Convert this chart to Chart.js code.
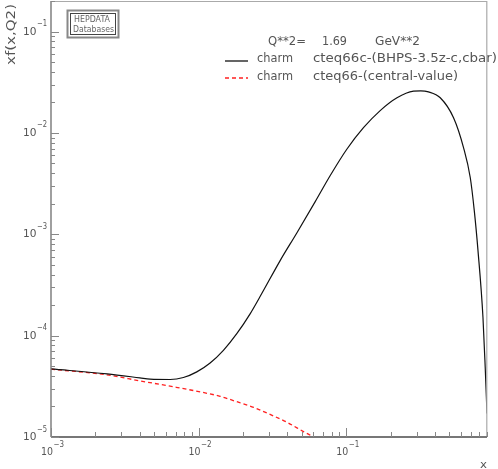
<!DOCTYPE html>
<html><head><meta charset="utf-8">
<script src="https://cdn.jsdelivr.net/npm/chart.js@4"></script>
<style>html,body{margin:0;padding:0;background:#fff;overflow:hidden}canvas{display:block}</style>
</head><body>
<canvas id="c" width="498" height="469"></canvas>
<script>
// ---- data ----
const blackX = [0.001, 0.0024, 0.004, 0.00469, 0.00641, 0.00789, 0.00973, 0.01197, 0.01473, 0.01815, 0.02234, 0.0268, 0.0357, 0.0463, 0.0617, 0.078, 0.101, 0.131, 0.170, 0.221, 0.286, 0.32, 0.361, 0.434, 0.534, 0.624, 0.693, 0.738, 0.782, 0.845, 0.875, 0.9];
const blackY = [4.70e-5, 4.19e-5, 3.83e-5, 3.72e-5, 3.69e-5, 3.86e-5, 4.39e-5, 5.37e-5, 7.16e-5, 1.045e-4, 1.64e-4, 2.60e-4, 5.50e-4, 1.03e-3, 2.10e-3, 3.80e-3, 6.90e-3, 1.125e-2, 1.66e-2, 2.22e-2, 2.58e-2, 2.60e-2, 2.54e-2, 2.22e-2, 1.41e-2, 7.16e-3, 3.63e-3, 1.71e-3, 6.9e-4, 1.52e-4, 4.9e-5, 1.71e-5];
const redX = [0.001, 0.00239, 0.004, 0.00674, 0.0114, 0.014, 0.0188, 0.0236, 0.0305, 0.0396, 0.0514, 0.0585, 0.065];
const redY = [4.67e-5, 4.10e-5, 3.58e-5, 3.13e-5, 2.70e-5, 2.52e-5, 2.19e-5, 1.96e-5, 1.67e-5, 1.40e-5, 1.13e-5, 1.02e-5, 9.0e-6];

const xMajorTicks = [1e-3, 1e-2, 1e-1];
const xTickExps = ['\u22123', '\u22122', '\u22121'];
const yMajorTicks = [1e-5, 1e-4, 1e-3, 1e-2, 1e-1];
const yTickExps = ['\u22125', '\u22124', '\u22123', '\u22122', '\u22121'];
const yTitle = 'xf(x,Q2)';
const xTitle = 'x';
const q2Label = ['Q**2=', '1.69', 'GeV**2'];
const legendNames = ['charm', 'charm'];
const legendSets = ['cteq66c-(BHPS-3.5z-c,cbar)', 'cteq66-(central-value)'];
const boxLines = ['HEPDATA', 'Databases'];

const TXT = '#555';
const FONT = '"DejaVu Sans", "Liberation Sans", sans-serif';

function stretchText(ctx, s, x0, x1, yBase, size) {
  ctx.save();
  ctx.font = size + 'px ' + FONT;
  ctx.textAlign = 'left';
  ctx.textBaseline = 'alphabetic';
  const w = ctx.measureText(s).width;
  const sx = (x1 - x0) / w;
  ctx.translate(x0, yBase);
  ctx.scale(sx, 1);
  ctx.fillText(s, 0, 0);
  ctx.restore();
}

const overlay = {
  id: 'overlay',
  afterDatasetsDraw(chart) {
    const ctx = chart.ctx, a = chart.chartArea;
    const xs = chart.scales.x, ys = chart.scales.y;
    ctx.save();
    ctx.fillStyle = TXT;
    // frame
    ctx.strokeStyle = '#aaa'; ctx.lineWidth = 1.2;
    ctx.beginPath();
    ctx.moveTo(a.left, a.top + 0.5); ctx.lineTo(a.right, a.top + 0.5);
    ctx.moveTo(a.right - 0.2, a.top); ctx.lineTo(a.right - 0.2, a.bottom);
    ctx.stroke();
    ctx.strokeStyle = '#777'; ctx.lineWidth = 1.4;
    ctx.beginPath();
    ctx.moveTo(a.left, a.top); ctx.lineTo(a.left, a.bottom);
    ctx.stroke();
    ctx.lineWidth = 1.8;
    ctx.beginPath();
    ctx.moveTo(a.left, a.bottom); ctx.lineTo(a.right, a.bottom);
    ctx.stroke();
    // x ticks
    ctx.lineWidth = 1; ctx.strokeStyle = '#888';
    ctx.beginPath();
    xMajorTicks.forEach(d => {
      for (let m = 1; m <= 9; m++) {
        const v = d * m;
        if (v < xs.min * 0.999 || v > xs.max * 1.001) continue;
        const px = Math.round(xs.getPixelForValue(v)) + 0.5;
        const len = m === 1 ? 9 : 5;
        ctx.moveTo(px, a.bottom); ctx.lineTo(px, a.bottom - len);
      }
    });
    // y ticks
    yMajorTicks.forEach(d => {
      for (let m = 1; m <= 9; m++) {
        const v = d * m;
        if (v < ys.min * 0.999 || v > ys.max * 1.001) continue;
        const py = Math.round(ys.getPixelForValue(v)) + 0.5;
        const len = m === 1 ? 8 : 4;
        ctx.moveTo(a.left, py); ctx.lineTo(a.left + len, py);
      }
    });
    ctx.stroke();
    // x tick labels
    xMajorTicks.forEach((v, i) => {
      const px = xs.getPixelForValue(v);
      stretchText(ctx, '10', px - 10, px + 2, a.bottom + 18, 10.5);
      stretchText(ctx, xTickExps[i], px + 2.5, px + 13, a.bottom + 9.5, 8);
    });
    // y tick labels
    yMajorTicks.forEach((v, i) => {
      const py = ys.getPixelForValue(v);
      stretchText(ctx, '10', 23, 36.5, py + 3, 10.5);
      stretchText(ctx, yTickExps[i], 37, 47, py - 5.5, 8);
    });
    // axis titles
    ctx.save();
    ctx.translate(15, 2);
    ctx.rotate(-Math.PI / 2);
    stretchText(ctx, yTitle, -63, -2, 0, 12.5);
    ctx.restore();
    stretchText(ctx, xTitle, 480, 487, 468, 11);
    // legend text
    stretchText(ctx, q2Label[0], 268, 306, 45, 12);
    stretchText(ctx, q2Label[1], 322, 347, 45, 12);
    stretchText(ctx, q2Label[2], 375, 420, 45, 12);
    stretchText(ctx, legendNames[0], 257, 293, 62, 12);
    stretchText(ctx, legendSets[0], 313, 497, 62, 12);
    stretchText(ctx, legendNames[1], 257, 293, 79.5, 12);
    stretchText(ctx, legendSets[1], 313, 458, 79.5, 12);
    // legend samples
    ctx.lineWidth = 1.3;
    ctx.strokeStyle = chart.data.datasets[0].borderColor;
    ctx.beginPath(); ctx.moveTo(225, 61); ctx.lineTo(248, 61); ctx.stroke();
    ctx.strokeStyle = chart.data.datasets[1].borderColor;
    ctx.setLineDash([4, 3]);
    ctx.beginPath(); ctx.moveTo(225, 78); ctx.lineTo(248, 78); ctx.stroke();
    ctx.setLineDash([]);
    // HEPDATA box
    ctx.strokeStyle = '#888'; ctx.lineWidth = 2;
    ctx.strokeRect(67.5, 10.5, 51, 27);
    ctx.strokeStyle = '#444'; ctx.lineWidth = 1;
    ctx.strokeRect(70.5, 13.5, 45, 21);
    ctx.fillStyle = '#666';
    stretchText(ctx, boxLines[0], 74, 110, 22, 8.5);
    stretchText(ctx, boxLines[1], 73, 114, 31.5, 8.5);
    ctx.restore();
  }
};

new Chart(document.getElementById('c'), {
  type: 'line',
  data: {
    datasets: [
      { label: 'charm cteq66c', data: blackX.map((x, i) => ({ x, y: blackY[i] })),
        borderColor: '#111', borderWidth: 1.2, pointRadius: 0, cubicInterpolationMode: 'monotone', fill: false },
      { label: 'charm cteq66', data: redX.map((x, i) => ({ x, y: redY[i] })),
        borderColor: '#ff2020', borderWidth: 1.3, borderDash: [4, 3], pointRadius: 0, cubicInterpolationMode: 'monotone', fill: false }
    ]
  },
  options: {
    responsive: false, animation: false, devicePixelRatio: 1,
    layout: { padding: { left: 51, right: 11, top: 1, bottom: 32 } },
    plugins: { legend: { display: false }, tooltip: { enabled: false } },
    scales: {
      x: { type: 'logarithmic', min: 0.001, max: 0.9, display: false },
      y: { type: 'logarithmic', min: 1e-5, max: 0.2, display: false }
    }
  },
  plugins: [overlay]
});
</script>
</body></html>
